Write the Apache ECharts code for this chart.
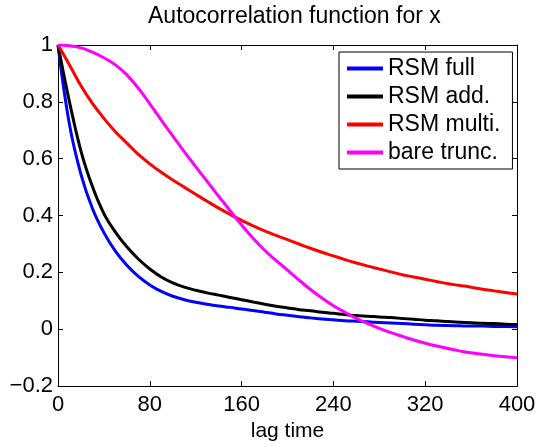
<!DOCTYPE html>
<html>
<head>
<meta charset="utf-8">
<script src="https://cdn.jsdelivr.net/npm/echarts@6/dist/echarts.min.js"></script>
<style>
  html, body { margin: 0; padding: 0; background: #fff; }
  #chart { width: 539px; height: 447px; }
</style>
</head>
<body>
<div id="chart"></div>
<script>
// lag values where the curves were sampled (every 10)
const lags = [0, 10, 20, 30, 40, 50, 60, 70, 80, 90, 100, 110, 120, 130, 140, 150, 160, 170, 180, 190, 200,
    210, 220, 230, 240, 250, 260, 270, 280, 290, 300, 310, 320, 330, 340, 350, 360, 370, 380, 390, 400];

// autocorrelation estimates
const rsmFull = [1, 0.72, 0.545, 0.425, 0.34, 0.275, 0.225, 0.186, 0.156, 0.133, 0.116, 0.104, 0.095, 0.088, 0.082, 0.077, 0.071, 0.066, 0.06, 0.054, 0.049,
    0.044, 0.04, 0.036, 0.033, 0.03, 0.028, 0.026, 0.024, 0.022, 0.02, 0.018, 0.016, 0.014, 0.013, 0.012, 0.011, 0.011, 0.01, 0.01, 0.009];
const rsmAdd = [1, 0.8, 0.627, 0.502, 0.407, 0.342, 0.29, 0.247, 0.212, 0.184, 0.163, 0.148, 0.137, 0.128, 0.12, 0.112, 0.104, 0.096, 0.088, 0.081, 0.075,
    0.069, 0.065, 0.06, 0.056, 0.052, 0.048, 0.046, 0.043, 0.041, 0.038, 0.035, 0.032, 0.03, 0.027, 0.025, 0.023, 0.021, 0.02, 0.018, 0.017];
const rsmMulti = [1, 0.93, 0.857, 0.795, 0.742, 0.695, 0.655, 0.615, 0.582, 0.552, 0.525, 0.5, 0.475, 0.45, 0.426, 0.404, 0.383, 0.364, 0.346, 0.33, 0.315,
    0.3, 0.285, 0.271, 0.258, 0.245, 0.233, 0.222, 0.212, 0.202, 0.192, 0.184, 0.176, 0.168, 0.16, 0.154, 0.148, 0.141, 0.135, 0.129, 0.124];
const bareTrunc = [1, 0.997, 0.99, 0.975, 0.955, 0.93, 0.895, 0.848, 0.793, 0.736, 0.68, 0.625, 0.572, 0.52, 0.468, 0.417, 0.367, 0.32, 0.278, 0.242, 0.208,
    0.173, 0.14, 0.11, 0.083, 0.06, 0.038, 0.02, 0.003, -0.012, -0.025, -0.038, -0.049, -0.059, -0.068, -0.076, -0.083, -0.088, -0.093, -0.097, -0.1];

const seriesNames = ['RSM full', 'RSM add.', 'RSM multi.', 'bare trunc.'];
const seriesColors = ['#0000ff', '#000000', '#ff0000', '#ff00ff'];
const seriesValues = [rsmFull, rsmAdd, rsmMulti, bareTrunc];

const font = 'Liberation Sans, Arial, sans-serif';

var chart = echarts.init(document.getElementById('chart'));

function pairs(values) {
    return lags.map(function (t, i) { return [t, values[i]]; });
}

var series = seriesNames.map(function (name, i) {
    return {
        name: name,
        type: 'line',
        data: pairs(seriesValues[i]),
        smooth: 0.4,
        symbol: 'none',
        lineStyle: { width: 3, color: seriesColors[i] },
        itemStyle: { color: seriesColors[i] }
    };
});

var axisCommon = {
    axisLine: { show: true, onZero: false, lineStyle: { color: '#000', width: 1 } },
    axisTick: { show: true, inside: true, length: 5, lineStyle: { color: '#000' } },
    splitLine: { show: false }
};

var option = {
    animation: false,
    backgroundColor: '#fff',
    title: {
        text: 'Autocorrelation function for x',
        left: 148,
        top: 5,
        padding: 0,
        textStyle: { fontFamily: font, fontSize: 23, fontWeight: 'normal', color: '#000' }
    },
    grid: { left: 58, right: 22, top: 45, bottom: 53 },
    legend: {
        data: seriesNames,
        orient: 'vertical',
        left: 339,
        top: 52,
        padding: [5, 12, 5, 8],
        itemGap: 5,
        itemWidth: 36,
        itemHeight: 4,
        icon: 'rect',
        backgroundColor: '#fff',
        borderColor: '#000',
        borderWidth: 1,
        textStyle: { fontFamily: font, fontSize: 23, color: '#000' }
    },
    xAxis: [
        Object.assign({}, axisCommon, {
            type: 'value',
            min: 0, max: 400, interval: 80,
            name: 'lag time',
            nameLocation: 'middle',
            nameGap: 34,
            nameTextStyle: { fontFamily: font, fontSize: 21, color: '#000' },
            axisLabel: { margin: 8, fontFamily: font, fontSize: 22, color: '#000' }
        }),
        Object.assign({}, axisCommon, {
            type: 'value', position: 'top',
            min: 0, max: 400, interval: 80,
            axisLabel: { show: false }
        })
    ],
    yAxis: [
        Object.assign({}, axisCommon, {
            type: 'value',
            min: -0.2, max: 1, interval: 0.2,
            axisLabel: {
                margin: 5, fontFamily: font, fontSize: 22, color: '#000',
                formatter: function (v) {
                    var s = Math.round(v * 10) / 10;
                    return String(s).replace('-', '\u2212');
                }
            }
        }),
        Object.assign({}, axisCommon, {
            type: 'value', position: 'right',
            min: -0.2, max: 1, interval: 0.2,
            axisLabel: { show: false }
        })
    ],
    series: series
};

chart.setOption(option);
</script>
</body>
</html>
